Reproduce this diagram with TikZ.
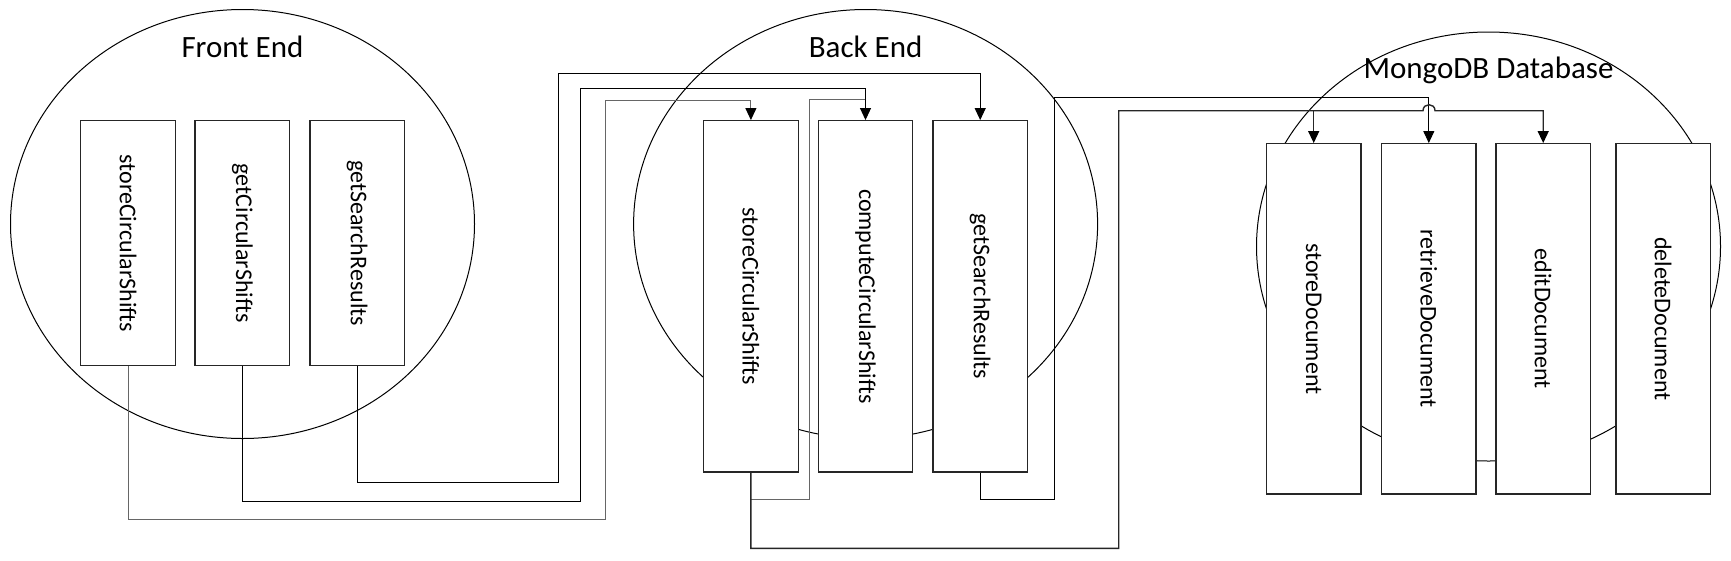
\documentclass[tikz,border=0pt]{standalone}
\usepackage{fontspec}
\setmainfont{Carlito}
\usetikzlibrary{shapes.geometric,arrows.meta}
\begin{document}
\begin{tikzpicture}[x=1pt,y=-1pt,
  grp/.style={draw,ellipse,minimum width=464pt,minimum height=429pt,inner sep=0pt,line width=1pt},
  ttl/.style={anchor=base,font=\fontsize{31}{36}\selectfont,inner sep=0pt},
  fbox/.style={draw=black!85,fill=white,rectangle,minimum width=94.5pt,inner sep=0pt,line width=1.3pt,font=\fontsize{24}{28}\selectfont},
  fe box/.style={fbox,minimum height=245pt},
  be box/.style={fbox,minimum height=351.3pt},
  db box/.style={fbox,minimum height=350.3pt},
  conn/.style={line width=1pt,draw=black},
  greyconn/.style={line width=1pt,draw=black!60},
  heavyconn/.style={line width=1.4pt,draw=black!85},
  tip/.style={-{Triangle[length=12pt,width=11pt,color=black]}}]
\useasboundingbox[fill=white] (0,0) rectangle (1731,560);
% groups
\node[grp] (fe) at (242.5,224) {};
\node[grp] (be) at (865.6,224) {};
\node[grp] (db) at (1488.5,246.5) {};
\node[ttl] (fet) at (242.5,57) {Front End};
\node[ttl] (bet) at (865.6,57) {Back End};
\node[ttl] (dbt) at (1488.5,78.5) {MongoDB Database};
% front end boxes
\node[fe box] (f1) at (128,243.2) {\rotatebox{-90}{storeCircularShifts}};
\node[fe box] (f2) at (242.3,243.2) {\rotatebox{-90}{getCircularShifts}};
\node[fe box] (f3) at (357.2,243.2) {\rotatebox{-90}{getSearchResults}};
% back end boxes
\node[be box] (b1) at (750.9,296.35) {\rotatebox{-90}{storeCircularShifts}};
\node[be box] (b2) at (865.5,296.35) {\rotatebox{-90}{computeCircularShifts}};
\node[be box] (b3) at (980.2,296.35) {\rotatebox{-90}{getSearchResults}};
% database boxes
\node[db box] (d1) at (1313.7,318.85) {\rotatebox{-90}{storeDocument}};
\node[db box] (d2) at (1428.8,318.85) {\rotatebox{-90}{retrieveDocument}};
\node[db box] (d3) at (1543.2,318.85) {\rotatebox{-90}{editDocument}};
\node[db box] (d4) at (1663.2,318.85) {\rotatebox{-90}{deleteDocument}};
% connectors
\draw[greyconn] (b1.south) |- (809,499) -- (809,99) -- (b2.north |- 0,99);
\draw[greyconn,tip] (f1.south) |- (605,519) -- (605,100.7) -| (b1.north);
\draw[conn,tip] (f2.south) |- (580.6,501) -- (580.6,88.7) -| (b2.north);
\draw[conn,tip] (f3.south) |- (558.5,482.7) -- (558.5,73.3) -| (b3.north);
\draw[conn,tip] (b3.south) |- (1054,499) -- (1054,97.5) -| (d2.north);
\draw[heavyconn,tip] (b1.south) |- (1118.7,548.3) -- (1118.7,110.7) -- (1423,110.7)
   .. controls (1423,102.7) and (1435,102.7) .. (1435,110.7) -| (d3.north);
\draw[heavyconn,tip] (d1.north |- 0,110.7) -- (d1.north);
\end{tikzpicture}
\end{document}
